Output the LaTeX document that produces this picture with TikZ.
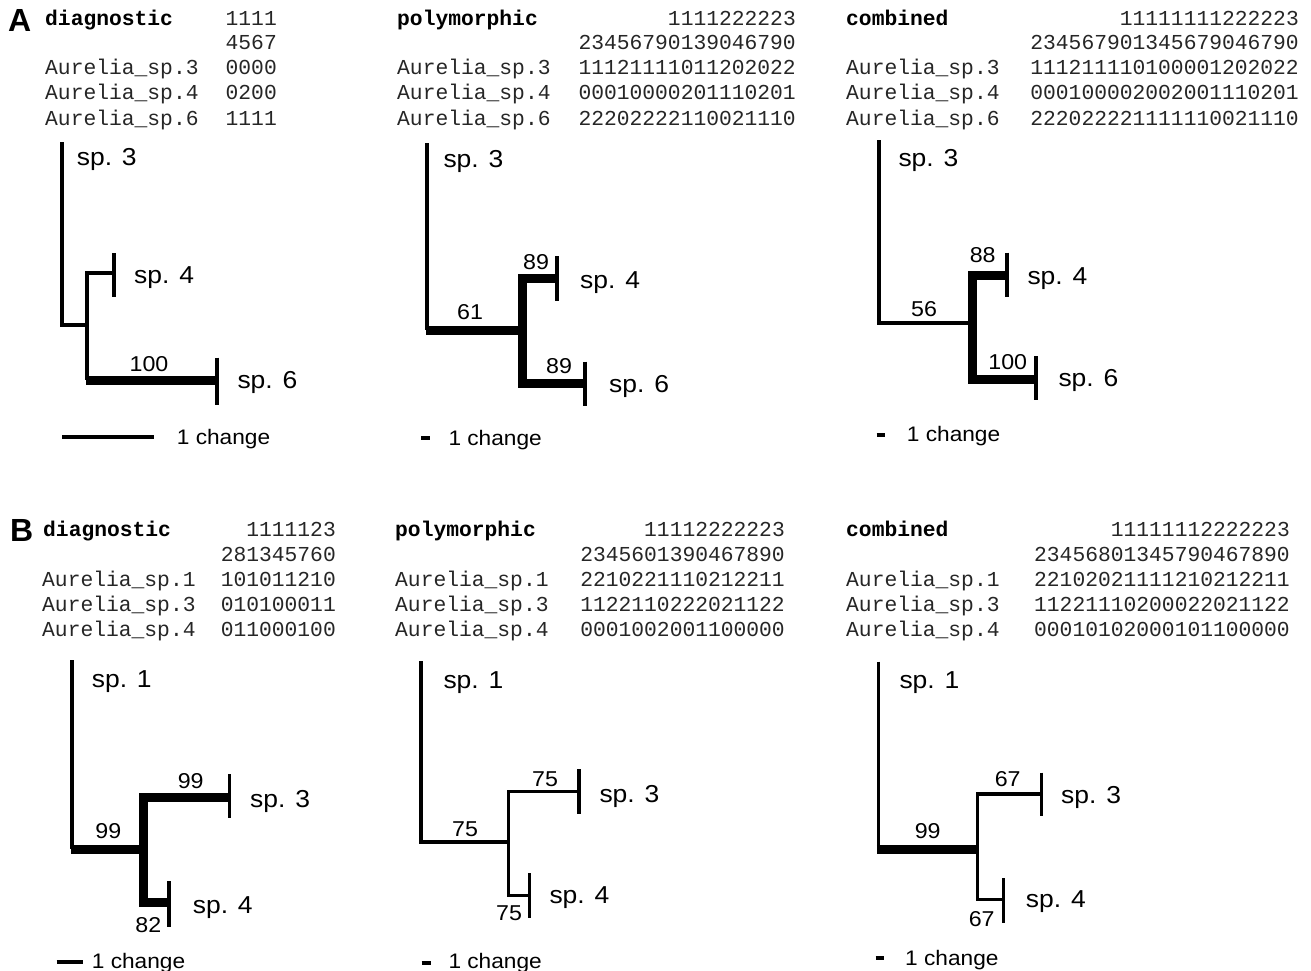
\documentclass[tikz,border=0pt]{standalone}
\usepackage{fontspec}
\setmainfont{Liberation Sans}
\newfontfamily\lblfont[FakeStretch=1.08]{Liberation Sans}
\newfontfamily\monof{Liberation Mono}
\begin{document}
\begin{tikzpicture}[x=1pt,y=-1pt,
  thinbr/.style={line width=3.1pt,line join=miter},
  heavy/.style={line width=9pt,line join=miter},
  tipbar/.style={line width=3.1pt},
  scalebar/.style={line width=3.2pt},
  splbl/.style={font=\lblfont\fontsize{24.5}{28}\selectfont,anchor=base west,inner sep=0pt},
  bslbl/.style={font=\lblfont\fontsize{21.5}{24}\selectfont,anchor=base,inner sep=0pt},
  chg/.style={font=\lblfont\fontsize{21}{24}\selectfont,anchor=base west,inner sep=0pt},
  nm/.style={font=\monof\fontsize{21.3}{24}\selectfont,anchor=base west,inner sep=0pt,text=black!85},
  dat/.style={font=\monof\fontsize{21.3}{24}\selectfont,anchor=base east,inner sep=0pt,text=black!85},
  hd/.style={font=\monof\bfseries\fontsize{21.3}{24}\selectfont,anchor=base west,inner sep=0pt},
  panel/.style={font=\bfseries\fontsize{32}{34}\selectfont,anchor=base west,inner sep=0pt}]
\useasboundingbox (0,0) rectangle (1311,971);

% ===== panel letters =====
\node[panel] (pA) at (8,31.5) {A};
\node[panel] (pB) at (10,541.5) {B};

% ===== A tables =====
\node[hd] (hA1) at (45,26) {diagnostic};
\node[dat] (dA1a) at (277,26) {1111};
\node[dat] (dA1b) at (277,50) {4567};
\node[nm] (nA13) at (45,75) {Aurelia\_sp.3};
\node[dat] (dA13) at (277,75) {0000};
\node[nm] (nA14) at (45,100) {Aurelia\_sp.4};
\node[dat] (dA14) at (277,100) {0200};
\node[nm] (nA16) at (45,125) {Aurelia\_sp.6};
\node[dat] (dA16) at (277,125) {1111};

\node[hd] (hA2) at (397,26) {polymorphic};
\node[dat] (dA2a) at (796,26) {1111222223};
\node[dat] (dA2b) at (796,50) {23456790139046790};
\node[nm] (nA23) at (397,75) {Aurelia\_sp.3};
\node[dat] (dA23) at (796,75) {11121111011202022};
\node[nm] (nA24) at (397,100) {Aurelia\_sp.4};
\node[dat] (dA24) at (796,100) {00010000201110201};
\node[nm] (nA26) at (397,125) {Aurelia\_sp.6};
\node[dat] (dA26) at (796,125) {22202222110021110};

\node[hd] (hA3) at (846,26) {combined};
\node[dat] (dA3a) at (1299,26) {11111111222223};
\node[dat] (dA3b) at (1299,50) {234567901345679046790};
\node[nm] (nA33) at (846,75) {Aurelia\_sp.3};
\node[dat] (dA33) at (1299,75) {111211110100001202022};
\node[nm] (nA34) at (846,100) {Aurelia\_sp.4};
\node[dat] (dA34) at (1299,100) {000100002002001110201};
\node[nm] (nA36) at (846,125) {Aurelia\_sp.6};
\node[dat] (dA36) at (1299,125) {222022221111110021110};

% ===== B tables =====
\node[hd] (hB1) at (43,536) {diagnostic};
\node[dat] (dB1a) at (336,536) {1111123};
\node[dat] (dB1b) at (336,561.5) {281345760};
\node[nm] (nB11) at (42,586.5) {Aurelia\_sp.1};
\node[dat] (dB11) at (336,586.5) {101011210};
\node[nm] (nB13) at (42,611) {Aurelia\_sp.3};
\node[dat] (dB13) at (336,611) {010100011};
\node[nm] (nB14) at (42,636) {Aurelia\_sp.4};
\node[dat] (dB14) at (336,636) {011000100};

\node[hd] (hB2) at (395,536) {polymorphic};
\node[dat] (dB2a) at (785,536) {11112222223};
\node[dat] (dB2b) at (785,561.5) {2345601390467890};
\node[nm] (nB21) at (395,586.5) {Aurelia\_sp.1};
\node[dat] (dB21) at (785,586.5) {2210221110212211};
\node[nm] (nB23) at (395,611) {Aurelia\_sp.3};
\node[dat] (dB23) at (785,611) {1122110222021122};
\node[nm] (nB24) at (395,636) {Aurelia\_sp.4};
\node[dat] (dB24) at (785,636) {0001002001100000};

\node[hd] (hB3) at (846,536) {combined};
\node[dat] (dB3a) at (1290,536) {11111112222223};
\node[dat] (dB3b) at (1290,561.5) {23456801345790467890};
\node[nm] (nB31) at (846,586.5) {Aurelia\_sp.1};
\node[dat] (dB31) at (1290,586.5) {22102021111210212211};
\node[nm] (nB33) at (846,611) {Aurelia\_sp.3};
\node[dat] (dB33) at (1290,611) {11221110200022021122};
\node[nm] (nB34) at (846,636) {Aurelia\_sp.4};
\node[dat] (dB34) at (1290,636) {00010102000101100000};

% ===== Tree A diagnostic =====
\coordinate (a1top) at (62,142);
\coordinate (a1r) at (62,325);
\coordinate (a1n) at (87,325);
\coordinate (a1e4) at (87,273);
\coordinate (a1e6) at (87,380);
\coordinate (a1e6l) at (85.5,380);
\coordinate (a1t4) at (114,273);
\coordinate (a1t6) at (217,380);
\draw[thinbr] (a1top) -- (a1r) -- (a1n);
\draw[thinbr] (a1t4) -- (a1e4) -- (a1e6);
\draw[heavy] (a1e6l) -- (a1t6);
\draw[tipbar] (a1t4) ++(0,-20) -- ++(0,44);
\draw[tipbar] (a1t6) ++(0,-22.5) -- ++(0,47);
\node[splbl] (a1s3) at (76.7,165) {sp. 3};
\node[splbl] (a1s4) at (134,283) {sp. 4};
\node[splbl] (a1s6) at (237.3,388) {sp. 6};
\node[bslbl] (a1b6) at (149,371) {100};
\coordinate (a1sa) at (62,437);
\coordinate (a1sb) at (154,437);
\draw[scalebar] (a1sa) -- (a1sb);
\node[chg] (a1c) at (176.7,444) {1 change};

% ===== Tree A polymorphic =====
\coordinate (a2top) at (427,143);
\coordinate (a2r) at (427,330);
\coordinate (a2rl) at (425.5,330);
\coordinate (a2n) at (522,330);
\coordinate (a2e4) at (522,278);
\coordinate (a2e6) at (522,383);
\coordinate (a2t4) at (557,278);
\coordinate (a2t6) at (585,383);
\draw[thinbr] (a2top) -- (a2r);
\draw[heavy] (a2rl) -- (a2n);
\draw[heavy] (a2t4) -- (a2e4) -- (a2e6) -- (a2t6);
\draw[tipbar] (a2t4) ++(0,-22) -- ++(0,45);
\draw[tipbar] (a2t6) ++(0,-21.5) -- ++(0,44.5);
\node[splbl] (a2s3) at (443.3,167) {sp. 3};
\node[splbl] (a2s4) at (580,288) {sp. 4};
\node[splbl] (a2s6) at (609,392) {sp. 6};
\node[bslbl] (a2b1) at (470,319) {61};
\node[bslbl] (a2b4) at (536,269) {89};
\node[bslbl] (a2b6) at (559,373) {89};
\coordinate (a2sa) at (421,438);
\coordinate (a2sb) at (429.5,438);
\draw[scalebar] (a2sa) -- (a2sb);
\node[chg] (a2c) at (448.3,445) {1 change};

% ===== Tree A combined =====
\coordinate (a3top) at (879,140);
\coordinate (a3r) at (879,323);
\coordinate (a3n) at (972.3,323);
\coordinate (a3e4) at (972.3,275);
\coordinate (a3e6) at (972.3,379);
\coordinate (a3t4) at (1007,275);
\coordinate (a3t6) at (1036,379);
\draw[thinbr] (a3top) -- (a3r) -- (a3n);
\draw[heavy] (a3t4) -- (a3e4) -- (a3e6) -- (a3t6);
\draw[tipbar] (a3t4) ++(0,-22.3) -- ++(0,44.6);
\draw[tipbar] (a3t6) ++(0,-23) -- ++(0,44);
\node[splbl] (a3s3) at (898.3,166.5) {sp. 3};
\node[splbl] (a3s4) at (1027.3,284) {sp. 4};
\node[splbl] (a3s6) at (1058.3,386) {sp. 6};
\node[bslbl] (a3b1) at (924,316.5) {56};
\node[bslbl] (a3b4) at (982.7,262) {88};
\node[bslbl] (a3b6) at (1007.7,369) {100};
\coordinate (a3sa) at (876.7,435);
\coordinate (a3sb) at (885,435);
\draw[scalebar] (a3sa) -- (a3sb);
\node[chg] (a3c) at (906.7,441) {1 change};

% ===== Tree B diagnostic =====
\coordinate (b1top) at (72,660);
\coordinate (b1r) at (72,849);
\coordinate (b1rl) at (70.5,849);
\coordinate (b1n) at (143.3,849);
\coordinate (b1e3) at (143.3,797);
\coordinate (b1e4) at (143.3,902.5);
\coordinate (b1t3) at (229.3,797);
\coordinate (b1t4) at (169,902.5);
\draw[thinbr] (b1top) -- (b1r);
\draw[heavy] (b1rl) -- (b1n);
\draw[heavy] (b1t3) -- (b1e3) -- (b1e4) -- (b1t4);
\draw[tipbar] (b1t3) ++(0,-23) -- ++(0,44.3);
\draw[tipbar] (b1t4) ++(0,-21.5) -- ++(0,45.7);
\node[splbl] (b1s1) at (91.7,687) {sp. 1};
\node[splbl] (b1s3) at (250,807) {sp. 3};
\node[splbl] (b1s4) at (192.7,913) {sp. 4};
\node[bslbl] (b1b3) at (190.7,788) {99};
\node[bslbl] (b1b1) at (108.3,838) {99};
\node[bslbl] (b1b4) at (148.3,932.5) {82};
\coordinate (b1sa) at (56.7,962);
\coordinate (b1sb) at (83.3,962);
\draw[scalebar] (b1sa) -- (b1sb);
\node[chg] (b1c) at (91.7,968) {1 change};

% ===== Tree B polymorphic =====
\coordinate (b2top) at (421,661);
\coordinate (b2r) at (421,842);
\coordinate (b2n) at (508.3,842);
\coordinate (b2e3) at (508.3,791.7);
\coordinate (b2e4) at (508.3,895.7);
\coordinate (b2t3) at (579,791.7);
\coordinate (b2t4) at (529.3,895.7);
\draw[thinbr] (b2top) -- (b2r) -- (b2n);
\draw[thinbr] (b2t3) -- (b2e3) -- (b2e4) -- (b2t4);
\draw[tipbar] (b2t3) ++(0,-22.4) -- ++(0,44.7);
\draw[tipbar] (b2t4) ++(0,-22.4) -- ++(0,44.4);
\node[splbl] (b2s1) at (443.3,688) {sp. 1};
\node[splbl] (b2s3) at (599.3,802) {sp. 3};
\node[splbl] (b2s4) at (549.3,903) {sp. 4};
\node[bslbl] (b2b3) at (545,786) {75};
\node[bslbl] (b2b1) at (465,836.5) {75};
\node[bslbl] (b2b4) at (509,920) {75};
\coordinate (b2sa) at (421.7,963);
\coordinate (b2sb) at (430.7,963);
\draw[scalebar] (b2sa) -- (b2sb);
\node[chg] (b2c) at (448.3,968) {1 change};

% ===== Tree B combined =====
\coordinate (b3top) at (878.3,661.7);
\coordinate (b3r) at (878.3,849.5);
\coordinate (b3rl) at (876.8,849.5);
\coordinate (b3n) at (977.3,849.5);
\coordinate (b3e3) at (977.3,794);
\coordinate (b3e4) at (977.3,899.3);
\coordinate (b3t3) at (1041.7,794);
\coordinate (b3t4) at (1003.3,899.3);
\draw[thinbr] (b3top) -- (b3r);
\draw[heavy] (b3rl) -- (b3n);
\draw[thinbr] (b3t3) -- (b3e3) -- (b3e4) -- (b3t4);
\draw[tipbar] (b3t3) ++(0,-21.3) -- ++(0,43.3);
\draw[tipbar] (b3t4) ++(0,-21) -- ++(0,44.4);
\node[splbl] (b3s1) at (899.3,688) {sp. 1};
\node[splbl] (b3s3) at (1061,803) {sp. 3};
\node[splbl] (b3s4) at (1025.7,907) {sp. 4};
\node[bslbl] (b3b3) at (1007.7,786.5) {67};
\node[bslbl] (b3b1) at (927.7,838) {99};
\node[bslbl] (b3b4) at (981.7,926) {67};
\coordinate (b3sa) at (875.7,958);
\coordinate (b3sb) at (884.3,958);
\draw[scalebar] (b3sa) -- (b3sb);
\node[chg] (b3c) at (905,965) {1 change};
\end{tikzpicture}
\end{document}
